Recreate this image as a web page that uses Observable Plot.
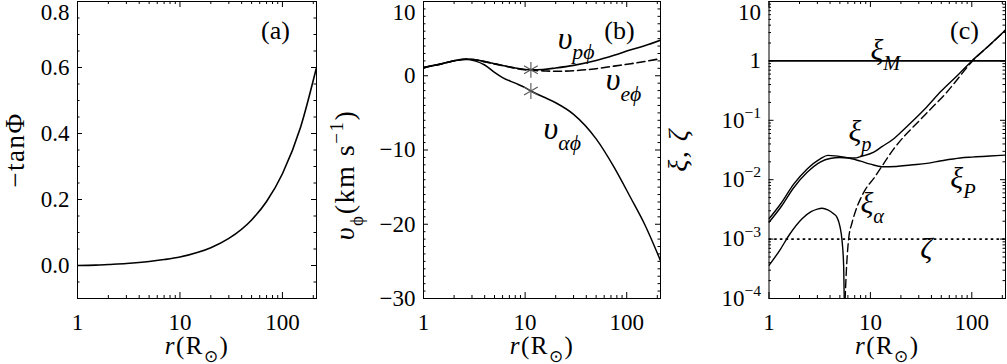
<!DOCTYPE html>
<html><head><meta charset="utf-8">
<script src="https://cdn.jsdelivr.net/npm/d3@7"></script>
<script src="https://cdn.jsdelivr.net/npm/@observablehq/plot@0.6"></script>
<style>
html,body{margin:0;padding:0;background:#fff;}
#wrap{position:relative;width:1007px;height:364px;overflow:hidden;background:#fff;}
#wrap svg{position:absolute;top:0;}
</style></head><body><div id="wrap"></div>
<script>
// ---------------- data ----------------
// panel (a): -tan(Phi) vs r
const A_R   = [1, 1.5, 2, 3, 5, 7, 10, 15, 20, 30, 50, 70, 100, 150, 215];
const A_TAN = [0.000, 0.001, 0.003, 0.006, 0.012, 0.018, 0.026, 0.040, 0.054, 0.082, 0.138, 0.194, 0.278, 0.418, 0.600];

// panel (b): azimuthal speeds (km/s)
const B_R   = [1, 1.5, 2, 2.7, 3.2, 4, 5, 6, 8, 10, 11.4, 15, 20, 30, 50, 75, 110, 150, 215];
const B_VP  = [1.12, 1.6, 2.03, 2.25, 2.15, 1.9, 1.6, 1.38, 1.05, 0.85, 0.8, 0.85, 1.05, 1.4, 2.05, 2.75, 3.5, 4.05, 4.8];
const B_VE  = [1.12, 1.6, 2.03, 2.25, 2.15, 1.9, 1.6, 1.38, 1.0, 0.8, 0.74, 0.66, 0.6, 0.68, 0.95, 1.3, 1.62, 1.92, 2.3];
const B_VA  = [1.12, 1.6, 2.03, 2.2, 2.0, 1.45, 0.45, -0.25, -1.0, -1.6, -2.05, -2.83, -3.64, -5.2, -8.5, -12.3, -16.5, -20.0, -24.9];
const B_STAR_R = [11.4, 11.4];
const B_STAR_V = [0.8, -2.05];

// panel (c): xi and zeta
const C_R_XIM = [1, 215];
const C_XIM   = [1.0, 1.0];
const C_R_ZETA = [1, 215];
const C_ZETA   = [1.0e-3, 1.0e-3];
const C_R_XIp = [1, 1.3, 1.76, 2.38, 3.2, 3.8, 4.5, 5.9, 7, 8, 10.8, 13, 17, 20, 26.6, 35, 50, 70, 100, 150, 215];
const C_XIp   = [2.2e-3, 3.9e-3, 8.5e-3, 0.0152, 0.0225, 0.0257, 0.0252, 0.0235, 0.0232, 0.0245, 0.029, 0.036, 0.049, 0.063, 0.1, 0.16, 0.31, 0.54, 1.0, 1.85, 3.3];
const C_R_XIP = [1, 1.3, 1.76, 2.38, 3.2, 4, 5, 6, 8, 10, 13, 18, 25, 36, 50, 77, 100, 150, 215];
const C_XIP   = [1.92e-3, 3.4e-3, 7.4e-3, 0.0133, 0.0198, 0.0228, 0.0236, 0.0232, 0.0205, 0.0183, 0.0165, 0.0167, 0.0177, 0.0188, 0.0208, 0.0232, 0.024, 0.025, 0.026];
const C_R_XIA1 = [1, 1.3, 1.57, 2.12, 2.6, 3.0, 3.34, 3.8, 4.3, 4.7, 5.0, 5.25, 5.45, 5.55];
const C_XIA1   = [3.6e-4, 6.8e-4, 1.15e-3, 2.2e-3, 2.9e-3, 3.2e-3, 3.3e-3, 3.1e-3, 2.7e-3, 2.3e-3, 1.65e-3, 9.5e-4, 3.5e-4, 6e-5];
const C_R_XIA2 = [5.58, 5.7, 5.85, 6.1, 6.6, 7.2, 8, 9, 10.8, 13, 17, 22, 28.9, 40, 55, 70, 100, 150, 215];
const C_XIA2   = [6e-5, 1.6e-4, 4e-4, 1e-3, 1.9e-3, 3.1e-3, 4.8e-3, 7e-3, 0.0105, 0.0169, 0.033, 0.056, 0.09, 0.16, 0.28, 0.46, 0.97, 1.85, 3.3];

// axis ticks & labels
const X_DOMAIN = [1, 215];
const X_MAJOR = [1, 10, 100];
const X_MAJOR_LABELS = ["1", "10", "100"];
const A_Y_MAJOR = [0, 0.2, 0.4, 0.6, 0.8];
const A_Y_LABELS = ["0.0", "0.2", "0.4", "0.6", "0.8"];
const B_Y_MAJOR = [-30, -20, -10, 0, 10];
const B_Y_LABELS = ["−30", "−20", "−10", "0", "10"];
const C_Y_MAJOR = [1e-4, 1e-3, 1e-2, 1e-1, 1, 10];
const C_Y_LABELS = ["10^{−4}", "10^{−3}", "10^{−2}", "10^{−1}", "1", "10"];

// text labels
const TITLE_X = "~{r}(R_{⊙})";
const TITLE_A = "−tanΦ";
const TITLE_B = "~{υ}_{ϕ}(km s^{−1})";
const TITLE_C = "~{ξ, ζ}";
const B_LAB_TEXT = ["υ_{pϕ}", "υ_{eϕ}", "υ_{αϕ}"];
const B_LAB_R = [20.9, 62.1, 15.2];
const B_LAB_V = [5.0, -0.6, -7.2];
const C_LAB_TEXT = ["ξ_{M}", "ξ_{p}", "ξ_{P}", "ξ_{α}", "ζ"];
const C_LAB_R = [10.0, 6.07, 61.4, 7.97, 31.1];
const C_LAB_V = [1.5, 0.064, 0.0105, 0.004, 7.0e-4];

// ---------------- helpers ----------------
const FONT = "'Liberation Serif','Times New Roman',serif";
const H = 364, MT = 1, MB = 66, FH = H - MT - MB;
const zip = (xs, ys) => xs.map((x, i) => ({x, y: ys[i]}));
const idx = (arr) => arr.map((_, i) => i);
const SPACED = new Set([TITLE_A, TITLE_B, TITLE_C, TITLE_X]);

const X_MINOR = [2,3,4,5,6,7,8,9,20,30,40,50,60,70,80,90,200];

function frameTicks(yMajor, yMinor, fw) {
  const o = {stroke: "black", strokeWidth: 1};
  return [
    Plot.ruleX(X_MAJOR, {x: d => d, insetTop: FH - 6, ...o}),
    Plot.ruleX(X_MAJOR, {x: d => d, insetBottom: FH - 6, ...o}),
    Plot.ruleX(X_MINOR, {x: d => d, insetTop: FH - 3, ...o}),
    Plot.ruleX(X_MINOR, {x: d => d, insetBottom: FH - 3, ...o}),
    Plot.ruleY(yMajor, {y: d => d, insetRight: fw - 5, ...o}),
    Plot.ruleY(yMajor, {y: d => d, insetLeft: fw - 5, ...o}),
    Plot.ruleY(yMinor, {y: d => d, insetRight: fw - 2.5, ...o}),
    Plot.ruleY(yMinor, {y: d => d, insetLeft: fw - 2.5, ...o})
  ];
}

function common(yMajor, yLabels, yMinor, fw, yTitle, titleDx, titleDy, titleSize, letter) {
  const n = yMajor.length;
  const lowIdx = idx(yMajor).slice(0, n - 1);
  return [
    Plot.frame({stroke: "black", strokeWidth: 1}),
    ...frameTicks(yMajor, yMinor, fw),
    Plot.axisX({ticks: X_MAJOR, tickFormat: (d) => X_MAJOR_LABELS[X_MAJOR.indexOf(d)], tickSize: 0, tickPadding: 15, fontSize: 23, fontFamily: FONT, label: null}),
    Plot.axisY({ticks: lowIdx.map(i => yMajor[i]), tickFormat: (d) => yLabels[yMajor.indexOf(d)], tickSize: 0, tickPadding: 8, fontSize: 23, fontFamily: FONT, label: null}),
    Plot.axisY({ticks: [yMajor[n - 1]], tickFormat: () => yLabels[n - 1], tickSize: 0, tickPadding: 8, dy: 11, fontSize: 23, fontFamily: FONT, label: null}),
    Plot.text([TITLE_X], {frameAnchor: "bottom", textAnchor: "middle", dy: 55, text: d => d, fontSize: 25, fontFamily: FONT}),
    Plot.text([yTitle], {frameAnchor: "left", textAnchor: "middle", dx: titleDx, dy: titleDy, rotate: -90, text: d => d, fontSize: titleSize, fontFamily: FONT}),
    Plot.text([letter], {frameAnchor: "top-right", dx: -41, dy: 19, textAnchor: "middle", text: d => d, fontSize: 26, fontFamily: FONT})
  ];
}

function enrich(root) {
  const NS = "http://www.w3.org/2000/svg";
  root.querySelectorAll("text").forEach(t => {
    const s = t.textContent;
    if (SPACED.has(s)) t.setAttribute("letter-spacing", "1.5px");
    if (!/[_^~]\{/.test(s)) return;
    const fs = parseFloat(getComputedStyle(t).fontSize) || 20;
    while (t.firstChild) t.removeChild(t.firstChild);
    const re = /([_^~])\{([^}]*)\}|([^_^~]+)/g;
    let m, cur = 0;
    while ((m = re.exec(s))) {
      const ts = document.createElementNS(NS, "tspan");
      let target = 0;
      if (m[3] !== undefined) { ts.textContent = m[3]; }
      else if (m[1] === "~") { ts.textContent = m[2]; ts.setAttribute("font-style", "italic"); }
      else if (m[1] === "_") { ts.textContent = m[2]; ts.setAttribute("font-size", (0.68 * fs) + "px"); target = 0.32 * fs; }
      else { ts.textContent = m[2]; ts.setAttribute("font-size", (0.68 * fs) + "px"); target = -0.42 * fs; }
      const d = target - cur;
      if (d) ts.setAttribute("dy", d + "px");
      cur = target;
      t.appendChild(ts);
    }
  });
}

const wrap = document.getElementById("wrap");
function mount(plot, left) {
  plot.style.left = left + "px";
  wrap.appendChild(plot);
  enrich(plot);
}
const baseStyle = {background: "transparent", overflow: "visible", fontFamily: FONT, color: "black"};

// ---------------- panel (a) ----------------
{
  const width = 318, ml = 77, mr = 2, fw = width - ml - mr;
  const minor = d3.range(-0.1, 0.8001, 0.05).map(v => +v.toFixed(2)).filter(v => !A_Y_MAJOR.includes(v));
  const p = Plot.plot({
    width, height: H, marginLeft: ml, marginRight: mr, marginTop: MT, marginBottom: MB,
    style: baseStyle,
    x: {type: "log", domain: X_DOMAIN},
    y: {domain: [-0.1, 0.8]},
    marks: [
      ...common(A_Y_MAJOR, A_Y_LABELS, minor, fw, TITLE_A, -62, 0, 27, "(a)"),
      Plot.line(zip(A_R, A_TAN), {x: "x", y: "y", stroke: "black", strokeWidth: 1.6, curve: "monotone-x", clip: true})
    ]
  });
  mount(p, 0);
}

// ---------------- panel (b) ----------------
{
  const width = 332, ml = 93, mr = 2, fw = width - ml - mr;
  const minor = d3.range(-30, 10.001, 1).filter(v => !B_Y_MAJOR.includes(v));
  const p = Plot.plot({
    width, height: H, marginLeft: ml, marginRight: mr, marginTop: MT, marginBottom: MB,
    style: baseStyle,
    x: {type: "log", domain: X_DOMAIN},
    y: {domain: [-30, 10]},
    marks: [
      ...common(B_Y_MAJOR, B_Y_LABELS, minor, fw, TITLE_B, -78, 25, 28, "(b)"),
      Plot.line(zip(B_R, B_VA), {x: "x", y: "y", stroke: "black", strokeWidth: 1.5, curve: "monotone-x", clip: true}),
      Plot.line(zip(B_R, B_VP), {x: "x", y: "y", stroke: "black", strokeWidth: 1.6, curve: "monotone-x", clip: true}),
      Plot.line(zip(B_R, B_VE), {x: "x", y: "y", stroke: "black", strokeWidth: 1.6, strokeDasharray: "8,4", curve: "monotone-x", clip: true}),
      Plot.dot(zip(B_STAR_R, B_STAR_V), {x: "x", y: "y", symbol: "asterisk", r: 7.5, stroke: "#555", strokeWidth: 1.1}),
      Plot.text(idx(B_LAB_TEXT), {x: i => B_LAB_R[i], y: i => B_LAB_V[i], text: i => B_LAB_TEXT[i], textAnchor: "start", fontSize: 32, fontStyle: "italic", fontFamily: FONT})
    ]
  });
  mount(p, 330);
}

// ---------------- panel (c) ----------------
{
  const width = 347, ml = 108.5, mr = 2, fw = width - ml - mr;
  const minor = [];
  for (const dec of [1e-4, 1e-3, 1e-2, 1e-1, 1]) for (const k of [2,3,4,5,6,7,8,9]) minor.push(dec * k);
  const p = Plot.plot({
    width, height: H, marginLeft: ml, marginRight: mr, marginTop: MT, marginBottom: MB,
    style: baseStyle,
    x: {type: "log", domain: X_DOMAIN},
    y: {type: "log", domain: [1e-4, 10]},
    marks: [
      ...common(C_Y_MAJOR, C_Y_LABELS, minor, fw, TITLE_C, -91, 0, 28, "(c)"),
      Plot.line(zip(C_R_XIM, C_XIM), {x: "x", y: "y", stroke: "black", strokeWidth: 1.6, clip: true}),
      Plot.line(zip(C_R_ZETA, C_ZETA), {x: "x", y: "y", stroke: "black", strokeWidth: 1.6, strokeDasharray: "1.5,4.2", clip: true}),
      Plot.line(zip(C_R_XIp, C_XIp), {x: "x", y: "y", stroke: "black", strokeWidth: 1.4, curve: "monotone-x", clip: true}),
      Plot.line(zip(C_R_XIP, C_XIP), {x: "x", y: "y", stroke: "black", strokeWidth: 1.4, curve: "monotone-x", clip: true}),
      Plot.line(zip(C_R_XIA1, C_XIA1), {x: "x", y: "y", stroke: "black", strokeWidth: 1.4, curve: "monotone-x", clip: true}),
      Plot.line(zip(C_R_XIA2, C_XIA2), {x: "x", y: "y", stroke: "black", strokeWidth: 1.4, strokeDasharray: "8,4", curve: "monotone-x", clip: true}),
      Plot.text(idx(C_LAB_TEXT), {x: i => C_LAB_R[i], y: i => C_LAB_V[i], text: i => C_LAB_TEXT[i], textAnchor: "start", fontSize: 30, fontStyle: "italic", fontFamily: FONT})
    ]
  });
  mount(p, 660);
}
</script>
</body></html>
